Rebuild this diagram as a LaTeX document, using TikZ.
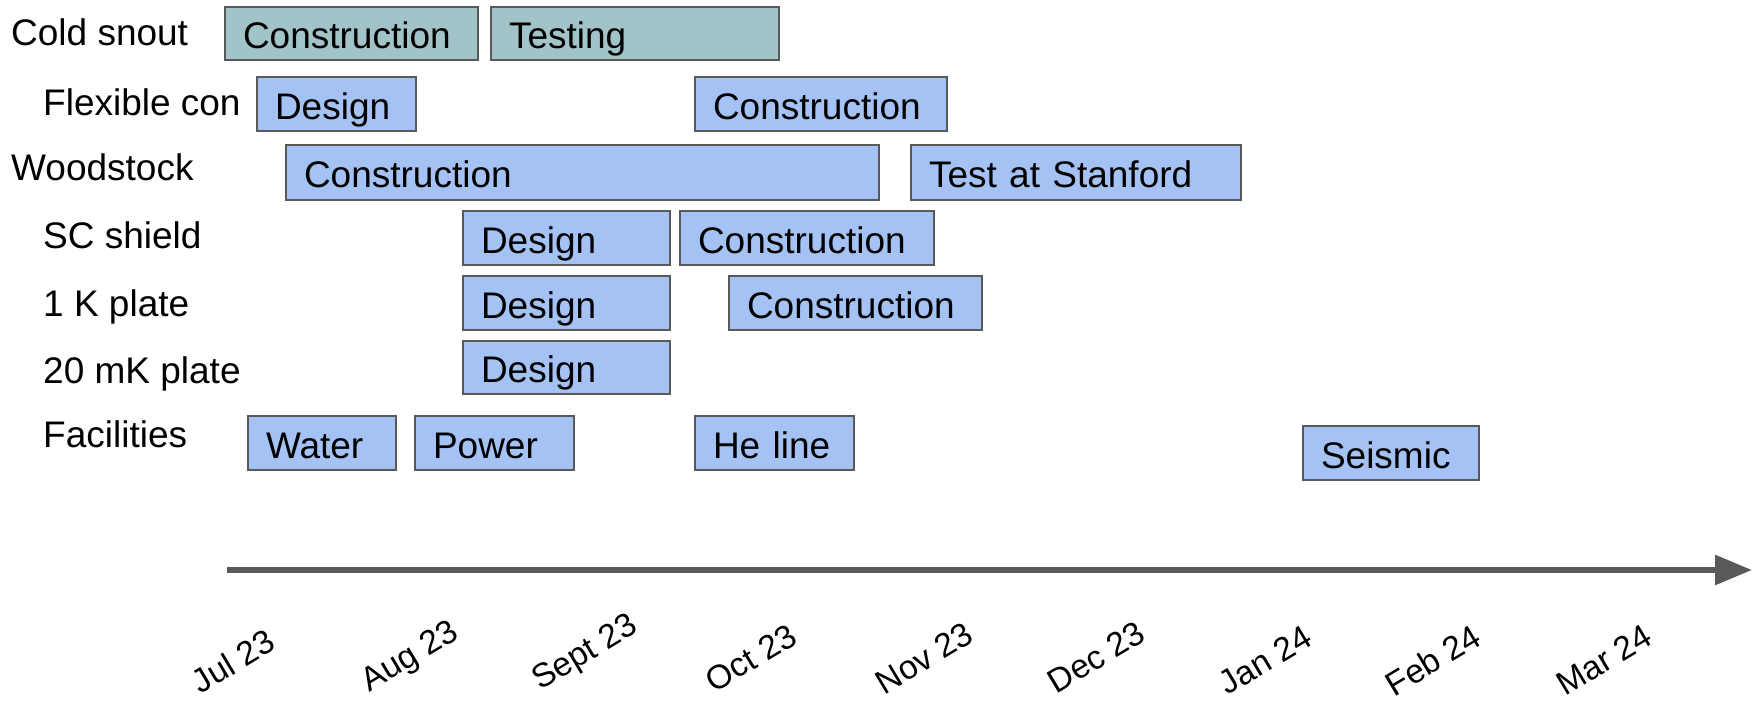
\documentclass[tikz,border=0pt]{standalone}
\usepackage{fontspec}
\setmainfont{Liberation Sans}
\usetikzlibrary{arrows.meta}
\definecolor{barblue}{HTML}{A4C2F4}
\definecolor{barteal}{HTML}{A2C4C9}
\definecolor{edgegray}{HTML}{595959}
\begin{document}
\begin{tikzpicture}[x=1pt,y=-1pt,
  bar/.style={draw=edgegray, line width=1.5pt, fill=barblue, anchor=north west,
    inner xsep=18pt, inner ysep=0pt, outer sep=0pt, align=left,
    text height=32pt, text depth=2pt, font=\fontsize{37}{44}\selectfont},
  tealbar/.style={bar, fill=barteal},
  rowlabel/.style={anchor=west, inner sep=0pt, text height=32pt, text depth=2pt,
    font=\fontsize{37}{44}\selectfont},
  datelabel/.style={rotate=31, inner sep=0pt, font=\fontsize{33.5}{40}\selectfont},
  axisline/.style={draw=edgegray, line width=6pt, -{Triangle[length=37pt,width=29pt]}}
]
\useasboundingbox (0,0) rectangle (1754,701);

% row labels
\node[rowlabel] (lcs) at (11,31) {Cold snout};
\node[rowlabel] (lfc) at (43,100) {Flexible con};
\node[rowlabel] (lws) at (11,165) {Woodstock};
\node[rowlabel] (lsc) at (43,233) {SC shield};
\node[rowlabel] (lk) at (43,301) {1 K plate};
\node[rowlabel] (lmk) at (43,368) {20 mK plate};
\node[rowlabel] (lfa) at (43,432) {Facilities};

% bars
\node[tealbar, minimum width=253pt, text width=217pt, minimum height=53pt] (cs1) at (225,7) {Construction};
\node[tealbar, minimum width=288pt, text width=252pt, minimum height=53pt] (cs2) at (491,7) {Testing};
\node[bar, minimum width=159pt, text width=123pt, minimum height=54pt] (fc1) at (257,77) {Design};
\node[bar, minimum width=252pt, text width=216pt, minimum height=54pt] (fc2) at (695,77) {Construction};
\node[bar, minimum width=593pt, text width=557pt, minimum height=55pt] (ws1) at (286,145) {Construction};
\node[bar, minimum width=330pt, text width=294pt, minimum height=55pt] (ws2) at (911,145) {Test at Stanford};
\node[bar, minimum width=207pt, text width=171pt, minimum height=54pt] (sc1) at (463,211) {Design};
\node[bar, minimum width=254pt, text width=218pt, minimum height=54pt] (sc2) at (680,211) {Construction};
\node[bar, minimum width=207pt, text width=171pt, minimum height=54pt] (k1) at (463,276) {Design};
\node[bar, minimum width=253pt, text width=217pt, minimum height=54pt] (k2) at (729,276) {Construction};
\node[bar, minimum width=207pt, text width=171pt, minimum height=53pt] (mk1) at (463,341) {Design};
\node[bar, minimum width=148pt, text width=112pt, minimum height=54pt] (f1) at (248,416) {Water};
\node[bar, minimum width=159pt, text width=123pt, minimum height=54pt] (f2) at (415,416) {Power};
\node[bar, minimum width=159pt, text width=123pt, minimum height=54pt] (f3) at (695,416) {He line};
\node[bar, minimum width=176pt, text width=140pt, minimum height=54pt] (f4) at (1303,426) {Seismic};

% time axis
\coordinate (a0) at (227,570);
\coordinate (a1) at (1752,570);
\draw[axisline] (a0) -- (a1);

% dates
\node[datelabel] (d1) at (233,661) {Jul 23};
\node[datelabel] (d2) at (411,658) {Aug 23};
\node[datelabel] (d3) at (586,654) {Sept 23};
\node[datelabel] (d4) at (751,658) {Oct 23};
\node[datelabel] (d5) at (924,658) {Nov 23};
\node[datelabel] (d6) at (1096,657) {Dec 23};
\node[datelabel] (d7) at (1265,660) {Jan 24};
\node[datelabel] (d8) at (1433,660) {Feb 24};
\node[datelabel] (d9) at (1604,660) {Mar 24};
\end{tikzpicture}
\end{document}
